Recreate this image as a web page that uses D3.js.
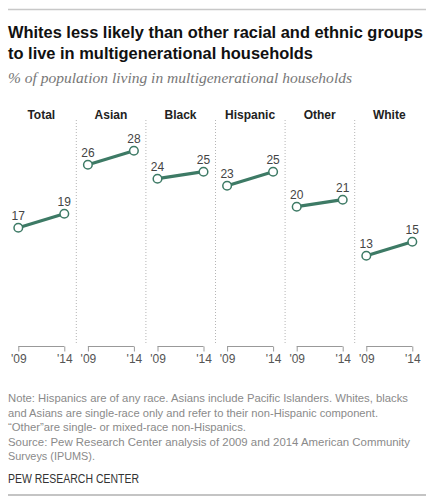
<!DOCTYPE html>
<html>
<head>
<meta charset="utf-8">
<script src="https://cdn.jsdelivr.net/npm/d3@7"></script>
<style>
  body { margin: 0; background: #fff; }
  svg { display: block; }
</style>
</head>
<body>
<script>
const categories = ["Total", "Asian", "Black", "Hispanic", "Other", "White"];
const years = ["'09", "'14"];
const values2009 = [17, 26, 24, 23, 20, 13];
const values2014 = [19, 28, 25, 25, 21, 15];

const W = 431, H = 497;
const svg = d3.select("body").append("svg").attr("width", W).attr("height", H);

const green = "#3d7a65";
const sans = "'Liberation Sans', Arial, sans-serif";

// top rule
svg.append("line").attr("x1", 8).attr("x2", 426).attr("y1", 9.5).attr("y2", 9.5)
  .attr("stroke", "#c8c8c8").attr("stroke-width", 1.5);

// title
svg.append("text").attr("x", 8).attr("y", 38).attr("font-family", sans).attr("font-weight", "bold")
  .attr("font-size", 16.5).attr("fill", "#111").attr("textLength", 415).attr("lengthAdjust", "spacingAndGlyphs")
  .text("Whites less likely than other racial and ethnic groups");
svg.append("text").attr("x", 8).attr("y", 59).attr("font-family", sans).attr("font-weight", "bold")
  .attr("font-size", 16.5).attr("fill", "#111").attr("textLength", 305).attr("lengthAdjust", "spacingAndGlyphs")
  .text("to live in multigenerational households");

svg.append("text").attr("x", 8).attr("y", 83).attr("font-family", "'Liberation Serif', 'DejaVu Serif', serif")
  .attr("font-style", "italic").attr("font-size", 14.5).attr("fill", "#777")
  .attr("textLength", 344).attr("lengthAdjust", "spacingAndGlyphs")
  .text("% of population living in multigenerational households");

// scales
const panel = d3.scaleBand().domain(categories).range([6.2, 6.2 + 69.6 * 6]).paddingInner(0).paddingOuter(0);
const xIn = d3.scalePoint().domain(years).range([12.1, 58.1]);
const y = d3.scaleLinear().domain([0, 30]).range([346.7, 136.7]);

const data = categories.map((c, i) => ({ cat: c, pts: [
  { year: years[0], v: values2009[i] },
  { year: years[1], v: values2014[i] }
]}));

// separators
svg.append("g").selectAll("line").data(categories.slice(1)).join("line")
  .attr("x1", d => panel(d) + 0.5).attr("x2", d => panel(d) + 0.5)
  .attr("y1", 120).attr("y2", 343)
  .attr("stroke", "#b5b5b5").attr("stroke-width", 1).attr("stroke-dasharray", "1,2");

const g = svg.append("g").selectAll("g").data(data).join("g")
  .attr("transform", d => `translate(${panel(d.cat)},0)`);

// headers
g.append("text").attr("x", (xIn(years[0]) + xIn(years[1])) / 2).attr("y", 119)
  .attr("text-anchor", "middle").attr("font-family", sans).attr("font-weight", "bold")
  .attr("font-size", 12).attr("fill", "#222").text(d => d.cat);

// axis brackets
g.each(function() {
  const sel = d3.select(this);
  const axisG = sel.append("g").attr("transform", `translate(0,${y(0) - 0.2})`);
  const ax = d3.axisBottom(xIn).tickSize(4).tickPadding(6);
  axisG.call(ax);
  axisG.select(".domain").remove();
  axisG.selectAll(".tick line").attr("stroke", "#999").attr("y1", 0).attr("y2", 5);
  axisG.append("line").attr("x1", xIn(years[0])).attr("x2", xIn(years[1]))
    .attr("stroke", "#999").attr("stroke-width", 1);
  axisG.selectAll(".tick text").attr("font-family", sans).attr("font-size", 12)
    .attr("fill", "#555").attr("dy", null).attr("y", 16);
});

// lines
const line = d3.line().x(p => xIn(p.year)).y(p => y(p.v));
g.append("path").attr("d", d => line(d.pts)).attr("fill", "none")
  .attr("stroke", green).attr("stroke-width", 3.2);

g.selectAll("circle").data(d => d.pts).join("circle")
  .attr("cx", p => xIn(p.year)).attr("cy", p => y(p.v)).attr("r", 4.3)
  .attr("fill", "#fff").attr("stroke", green).attr("stroke-width", 1.5);

g.selectAll("text.val").data(d => d.pts).join("text").attr("class", "val")
  .attr("x", p => xIn(p.year)).attr("y", p => y(p.v) - 8)
  .attr("text-anchor", "middle").attr("font-family", sans).attr("font-size", 12)
  .attr("fill", "#444").text(p => p.v);

// notes
const notes = [
  "Note: Hispanics are of any race. Asians include Pacific Islanders. Whites, blacks",
  "and Asians are single-race only and refer to their non-Hispanic component.",
  "\u201cOther\u201dare single- or mixed-race non-Hispanics.",
  "Source: Pew Research Center analysis of 2009 and 2014 American Community",
  "Surveys (IPUMS)."
];
const noteLens = [400, 370, 238, 402, 87];
svg.append("g").selectAll("text").data(notes).join("text")
  .attr("x", 8).attr("y", (d, i) => 402 + i * 14.5)
  .attr("font-family", sans).attr("font-size", 11).attr("fill", "#8a8a8a")
  .attr("textLength", (d, i) => noteLens[i]).attr("lengthAdjust", "spacingAndGlyphs")
  .text(d => d);

svg.append("text").attr("x", 8).attr("y", 483).attr("font-family", sans)
  .attr("font-size", 12).attr("fill", "#333").attr("textLength", 131).attr("lengthAdjust", "spacingAndGlyphs")
  .text("PEW RESEARCH CENTER");

svg.append("line").attr("x1", 8).attr("x2", 426).attr("y1", 495).attr("y2", 495)
  .attr("stroke", "#b0b0b0").attr("stroke-width", 1.5);
</script>
</body>
</html>
